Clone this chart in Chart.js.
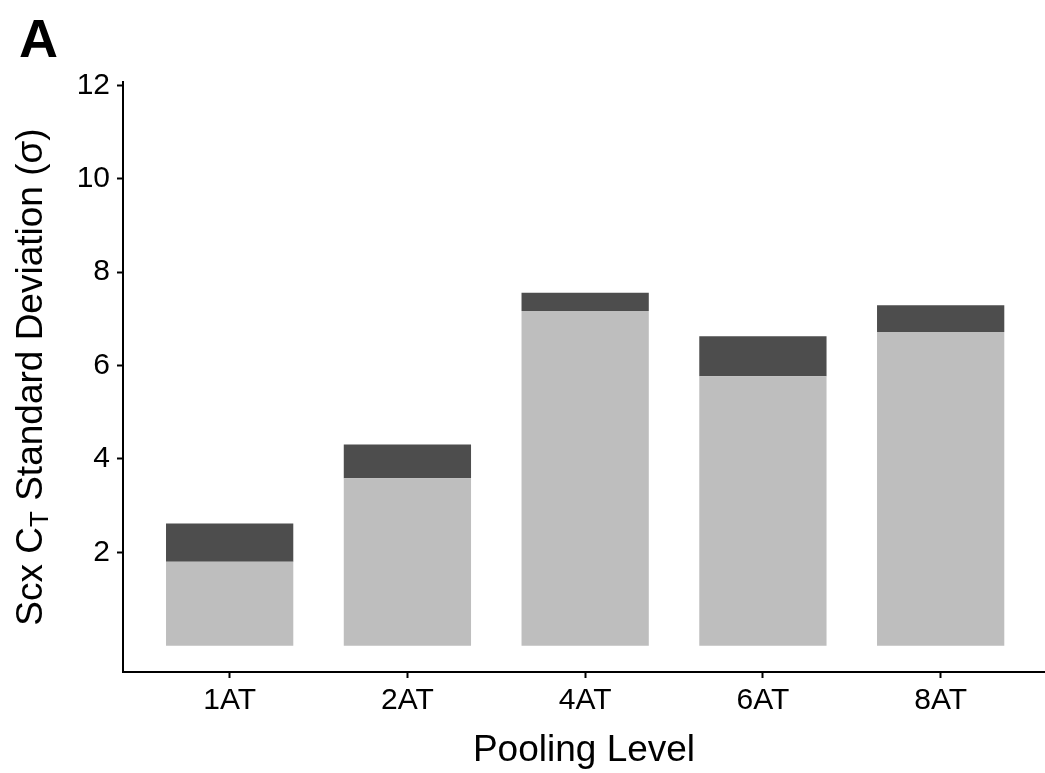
<!DOCTYPE html>
<html>
<head>
<meta charset="utf-8">
<script src="https://cdn.jsdelivr.net/npm/chart.js@4.4.1/dist/chart.umd.min.js"></script>
<style>
  html, body { margin: 0; padding: 0; background: #ffffff; }
  #wrap { width: 1045px; height: 773px; position: relative; }
</style>
</head>
<body>
<div id="wrap"><canvas id="chart" width="1045" height="773"></canvas></div>
<script>
// Pooling levels along the x axis
const categories = ['1AT', '2AT', '4AT', '6AT', '8AT'];
// Lower (light) segment of each bar
const baseSD = [1.80, 3.59, 7.17, 5.77, 6.72];
// Upper (dark) segment stacked on top
const extraSD = [0.82, 0.72, 0.39, 0.86, 0.57];
// Labelled y ticks
const yTicks = [2, 4, 6, 8, 10, 12];

const FONT = '"Liberation Sans", Arial, Helvetica, sans-serif';

const toPoints = arr => arr.map((v, i) => ({ x: i + 1, y: v }));

// Rotated y-axis title with subscript and the panel letter
const annotations = {
  id: 'annotations',
  afterDraw(chart) {
    const { ctx, chartArea } = chart;
    ctx.save();
    ctx.fillStyle = '#000';
    // panel letter
    ctx.font = 'bold 54px ' + FONT;
    ctx.textAlign = 'left';
    ctx.textBaseline = 'alphabetic';
    ctx.fillText('A', 19, 57);

    // y title: "Scx C_T Standard Deviation (σ)"
    const big = '37px ' + FONT;
    const small = '26px ' + FONT;
    const parts = [
      { t: 'Scx ', f: big, dy: 0 },
      { t: 'C', f: big, dy: 0 },
      { t: 'T', f: small, dy: 6 },
      { t: ' Standard Deviation (σ)', f: big, dy: 0 }
    ];
    let total = 0;
    parts.forEach(p => { ctx.font = p.f; p.w = ctx.measureText(p.t).width; total += p.w; });
    const cy = (chartArea.top + chartArea.bottom) / 2;
    ctx.translate(42, cy);
    ctx.rotate(-Math.PI / 2);
    let x = -total / 2;
    parts.forEach(p => {
      ctx.font = p.f;
      ctx.fillText(p.t, x, p.dy);
      x += p.w;
    });
    ctx.restore();
  }
};

new Chart(document.getElementById('chart'), {
  type: 'bar',
  data: {
    datasets: [
      {
        label: 'base',
        data: toPoints(baseSD),
        backgroundColor: '#bebebe',
        borderWidth: 0,
        barPercentage: 0.716,
        categoryPercentage: 1
      },
      {
        label: 'extra',
        data: toPoints(extraSD),
        backgroundColor: '#4d4d4d',
        borderWidth: 0,
        barPercentage: 0.716,
        categoryPercentage: 1
      }
    ]
  },
  options: {
    responsive: false,
    animation: false,
    devicePixelRatio: 1,
    layout: { padding: { top: 82, right: 0, left: 0, bottom: 0 } },
    plugins: {
      legend: { display: false },
      tooltip: { enabled: false }
    },
    scales: {
      x: {
        type: 'linear',
        stacked: true,
        offset: false,
        min: 0.4,
        max: 5.587,
        afterBuildTicks: s => { s.ticks = categories.map((c, i) => ({ value: i + 1 })); },
        afterFit: s => { s.height = 101; },
        ticks: {
          callback: v => categories[v - 1] ?? '',
          color: '#000',
          font: { family: FONT, size: 30 },
          padding: 5,
          maxRotation: 0,
          autoSkip: false
        },
        grid: {
          offset: false,
          drawOnChartArea: false,
          drawTicks: true,
          tickLength: 6,
          tickWidth: 2,
          tickColor: '#000'
        },
        border: { display: true, color: '#000', width: 2 },
        title: {
          display: true,
          text: 'Pooling Level',
          color: '#000',
          font: { family: FONT, size: 37 },
          padding: { top: 0, bottom: 0 }
        }
      },
      y: {
        stacked: true,
        min: -0.56,
        max: 12.07,
        afterBuildTicks: s => { s.ticks = yTicks.map(v => ({ value: v })); },
        afterFit: s => { s.width = 123; },
        ticks: {
          color: '#000',
          font: { family: FONT, size: 30 },
          padding: 7
        },
        grid: {
          drawOnChartArea: false,
          drawTicks: true,
          tickLength: 6,
          tickWidth: 2,
          tickColor: '#000'
        },
        border: { display: true, color: '#000', width: 2 }
      }
    }
  },
  plugins: [annotations]
});
</script>
</body>
</html>
